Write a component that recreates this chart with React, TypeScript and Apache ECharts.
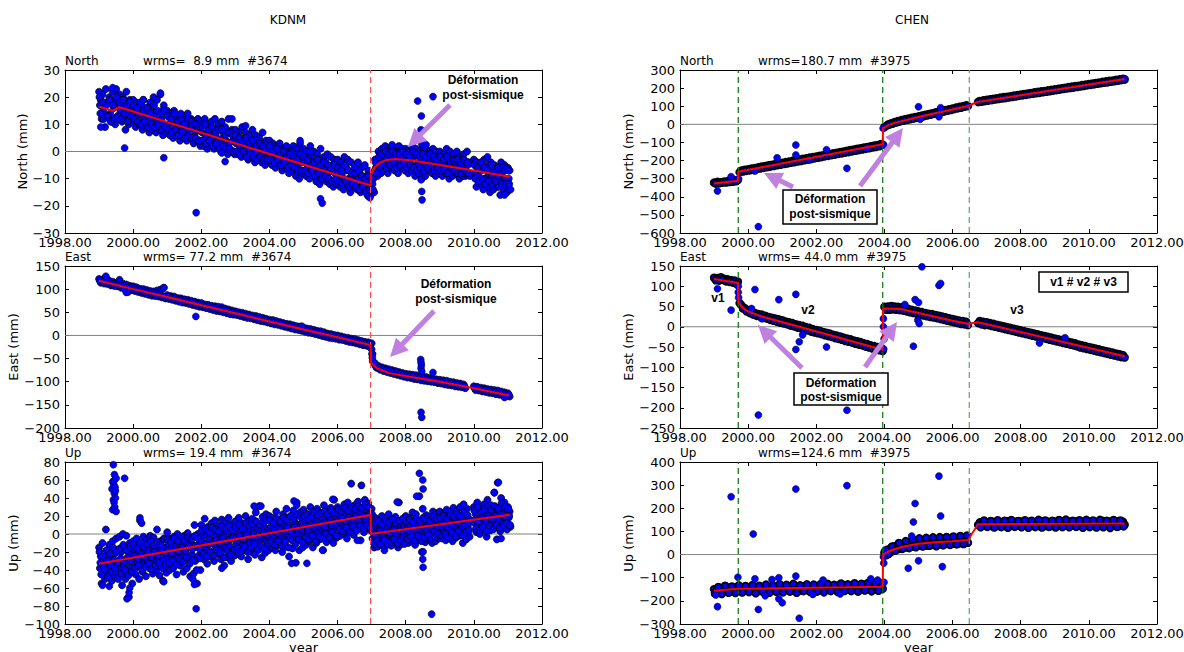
import React, { useEffect, useRef } from "react";
import * as echarts from "echarts";

// ---------------- axes ----------------
const X_MIN = 1998;
const X_MAX = 2012;
const X_STEP = 2;
const COLUMN_TITLES = ["KDNM", "CHEN"];
const COMPONENTS = ["North", "East", "Up"];
const Y_NAMES = ["North (mm)", "East (mm)", "Up (mm)"];
const WRMS = [
  ["wrms=  8.9 mm  #3674", "wrms= 77.2 mm  #3674", "wrms= 19.4 mm  #3674"],
  ["wrms=180.7 mm  #3975", "wrms= 44.0 mm  #3975", "wrms=124.6 mm  #3975"],
];
const Y_RANGES = [
  [[-30, 30, 10], [-200, 150, 50], [-100, 80, 20]],
  [[-600, 300, 100], [-250, 150, 50], [-300, 400, 100]],
];

// daily solutions sampled every 0.1 yr from 1999.0 (several read-off layers per panel)
const T0 = 1999.0;
const DT = 0.1;
const LAYER_SHIFT = [0, 0.05, 0.025, 0.075, 0.0125, 0.0375, 0.0625, 0.0875];

// ---------------- KDNM North ----------------
const KN_A = [22,21,23,20,22,23,21,20,22,19, 19,18,17,19,16,18,20,19,21,17, 15,14,15,13,12,13,14,12,11,12, 11,12,10,11,12,10,11,9,12,8, 8,7,9,7,6,8,6,5,7,4, 4,3,2,3,1,2,0,2,1,3, 1,0,2,0,-1,1,-2,-1,-2,-3, -3,-4,-2,-3,-4,-5,-4,-6,-5,-7, -8,-3,0,1,2,1,2,0,2,1, 1,0,2,1,0,2,1,0,1,0, 0,-1,1,0,-1,0,-2,-1,0,null, -3,-4,-5,-3,-2,-4,-5,-6,-4,-5, -6];
const KN_B = [17,15,18,14,16,17,15,17,14,16, 15,13,14,12,13,12,13,11,12,10, 10,11,9,10,8,9,8,9,7,8, 7,6,7,5,6,4,5,4,3,4, 3,2,3,1,2,1,0,1,-1,0, -1,-2,-1,-3,-2,-3,-4,-3,-5,-4, -4,-5,-4,-6,-5,-7,-6,-8,-7,-8, -8,-9,-7,-10,-9,-11,-10,-12,-11,-12, -12,-6,-4,-3,-3,-4,-2,-3,-4,-2, -3,-4,-2,-5,-3,-4,-5,-3,-4,-5, -4,-5,-6,-4,-5,-6,-5,-6,-5,null, -8,-9,-7,-10,-8,-9,-10,-9,-11,-10, -10];
const KN_C = [12,9,13,11,10,12,11,8,10,11, 9,10,8,9,7,8,7,8,6,7, 6,5,6,4,5,4,5,3,4,2, 2,1,3,1,2,0,1,-1,0,-1, -1,-2,-1,-3,-2,-4,-3,-4,-5,-4, -5,-6,-5,-7,-6,-8,-7,-9,-10,-8, -9,-10,-8,-11,-12,-10,-11,-12,-13,-12, -13,-14,-12,-15,-13,-14,-15,-14,-16,-16, -15,-9,-8,-7,-8,-6,-7,-8,-6,-7, -8,-7,-9,-8,-10,-9,-7,-8,-9,-8, -9,-8,-10,-9,-8,-10,-9,-8,-9,null, -13,-12,-14,-13,-15,-14,-13,-16,-14,-15, -14];
const KN_D = [19,13,18,12,18,13,19,13,18,12, 17,11,17,10,16,10,15,9,15,8, 14,7,13,6,12,6,11,5,10,4, 10,3,9,2,8,2,7,1,7,0, 6,0,5,-1,4,-2,4,-3,3,-3, 2,-4,1,-5,0,-6,0,-7,-1,-7, -2,-8,-3,-9,-3,-10,-4,-10,-5,-11, -6,-12,-6,-12,-7,-13,-8,-13,-9,-14, -10,-7,-1,-6,0,-6,0,-5,0,-6, 0,-6,-1,-6,-1,-7,-1,-7,-2,-7, -2,-8,-3,-8,-3,-9,-3,-9,-4,null, -4,-10,-5,-10,-5,-11,-6,-12,-6,-12, -7];
const KN_E = [20,18,17,19,17,20,18,19,17,18, 17,16,18,15,16,14,17,15,14,15, 13,12,14,11,12,10,12,11,10,9, 9,10,8,9,7,8,8,6,7,6, 6,5,4,5,3,4,2,3,2,1, 2,0,1,-1,0,-2,-1,-2,-3,-1, -2,-3,-1,-4,-3,-5,-4,-5,-6,-5, -6,-7,-5,-7,-8,-8,-7,-9,-10,-9, -10,-4,-2,-1,0,-1,0,-1,-1,0, -1,-2,0,-1,-2,-1,-2,-1,-2,-3, -2,-3,-2,-4,-3,-3,-4,-3,-4,null, -5,-6,-4,-6,-7,-5,-7,-6,-8,-7, -7];
const KN_F = [14,12,13,11,12,13,12,14,11,13, 12,11,10,11,9,10,9,10,8,9, 8,7,8,6,7,5,6,5,5,4, 4,3,4,2,3,1,2,1,1,0, 0,-1,0,-2,-1,-2,-3,-2,-3,-3, -3,-4,-3,-5,-4,-6,-5,-6,-7,-7, -7,-8,-7,-9,-8,-10,-9,-10,-11,-10, -11,-12,-11,-13,-12,-13,-14,-13,-15,-14, -14,-8,-6,-5,-6,-5,-4,-6,-5,-4, -6,-5,-6,-7,-6,-7,-6,-5,-7,-6, -7,-7,-8,-6,-7,-8,-8,-7,-8,null, -10,-11,-10,-12,-11,-12,-11,-13,-12,-12, -12];
const KN_OUT = [[1999.05,9],[1999.4,23.5],[1999.75,1.3],[2000.3,19],[2000.8,21.5],[2000.9,-2.3],[2001.4,14],[2001.85,-22.5],[2002.6,-0.5],[2002.7,-3.7],[2002.9,12],[2003.3,9.5],[2004.9,4],[2005.2,0],[2005.5,-17.4],[2005.55,-19],[2006.9,-16.5],[2006.95,-17],[2007.6,2.5],[2008.35,18.6],[2008.8,20.2],[2008.46,13.1],[2008.45,8],[2008.47,2.8],[2008.45,-10.4],[2008.47,-14.7],[2008.48,-17.8],[2008.6,2.5],[2010.9,-16]];
const KN_FIT = [[1999.0,16.5],[1999.4,15.0],[1999.6,16.3],[2006.97,-12.5],[2006.98,-8.6],[2007.1,-5.6],[2007.25,-4.1],[2007.44,-3.1],[2007.69,-2.8],[2008.2,-3.3],[2009.9,-6.8],[2011.06,-9.3]];

// ---------------- KDNM East ----------------
const KE_A = [122,121,125,118,116,113,120,112,110,107, 106,104,101,100,98,96,95,97,99,103, 87,85,84,81,80,78,77,75,73,71, 70,67,66,64,63,62,61,58,56,54, 52,50,49,47,45,43,42,40,38,36, 34,33,31,29,27,25,24,22,20,19, 17,15,14,12,10,9,7,4,3,1, 0,-2,-4,-5,-7,-8,-10,-12,-14,-15, -17,-63,-66,-69,-71,-73,-75,-77,-79,-81, -83,-84,-85,-86,-88,-89,-90,-92,-93,-95, -96,-97,-98,-100,-101,-103,-104,-106,null,null, -110,-111,-113,-114,-116,-117,-118,-119,-121,-123, -125];
const KE_B = [114,112,111,108,107,106,103,100,94,98, 96,94,92,90,88,86,85,84,82,80, 79,77,75,73,71,70,68,66,64,62, 61,59,57,55,53,52,50,48,46,45, 44,42,40,38,37,35,33,31,30,28, 26,24,23,21,19,17,15,13,12,10, 8,6,5,3,1,-1,-3,-5,-6,-7, -9,-10,-12,-14,-15,-17,-19,-21,-22,-24, -58,-70,-74,-77,-79,-81,-83,-85,-87,-89, -91,-92,-94,-95,-97,-98,-99,-100,-101,-103, -104,-106,-107,-108,-110,-111,-112,-114,null,null, -118,-119,-121,-122,-124,-125,-127,-128,-129,-131, -132];
const KE_C = [118,116,115,113,111,109,108,106,103,102, 100,98,97,95,93,91,90,88,86,84, 83,81,79,77,76,74,72,70,69,67, 65,63,62,60,58,56,55,53,51,50, 48,46,44,43,41,39,37,36,34,32, 30,28,27,25,23,21,20,18,16,14, 13,11,9,7,6,4,2,0,-1,-3, -4,-6,-8,-10,-11,-13,-15,-17,-18,-20, -40,-67,-70,-73,-75,-77,-79,-81,-83,-85, -87,-88,-89,-91,-92,-93,-95,-96,-97,-99, -100,-101,-103,-104,-106,-107,-108,-110,null,null, -114,-115,-117,-118,-120,-121,-122,-124,-125,-127, -128];
const KE_OUT = [[1999.2,128],[1999.8,93],[2000.85,100],[2000.9,103],[2001.84,41],[2004.95,20],[2005.5,5],[2006.95,-25],[2007.0,-30],[2007.01,-40],[2007.02,-48],[2007.03,-55],[2007.1,-60],[2008.44,-52],[2008.45,-58],[2008.46,-64],[2008.45,-71],[2008.47,-78],[2008.45,-166],[2008.47,-177],[2008.8,-80],[2010.9,-134]];
const KE_FIT = [[1999.0,118],[2000,100],[2001,83],[2002,65],[2003,48],[2004,30],[2005,13],[2006,-4],[2006.97,-21],[2006.98,-59],[2007.15,-71],[2007.54,-82],[2008.03,-88],[2009,-100],[2010,-114],[2011.04,-130]];

// ---------------- KDNM Up ----------------
const KU_A = [-15,-10,5,-12,-8,-5,-3,0,-2,-10, -8,-5,15,-3,-6,-2,-4,5,-8,-5, 2,-5,-3,0,-6,-2,1,-4,10,0, 10,17,8,12,15,9,16,13,18,11, 14,18,12,20,15,17,24,31,19,22, 20,18,25,16,22,28,19,26,35,24, 27,22,30,25,28,24,32,26,29,38, 30,28,33,35,56,32,36,54,38,34, 28,18,15,20,14,22,17,19,35,16, 20,18,24,22,42,28,21,19,25,23, 25,22,27,24,29,26,30,33,28,null, 30,35,28,33,38,32,46,57,40,35, 30];
const KU_B = [-25,-28,-20,-24,-22,-18,-20,-15,-19,-22, -18,-20,-14,-17,-15,-20,-16,-13,-18,-15, -12,-15,-10,-14,-11,-16,-9,-12,-14,-10, -2,0,-5,2,-3,0,-1,3,-4,1, 3,5,0,6,2,4,7,3,8,5, 8,10,6,12,9,11,7,13,10,12, 14,16,12,18,15,17,13,19,16,18, 22,20,24,21,25,23,26,24,27,25, 10,8,5,9,6,10,7,8,11,9, 10,8,12,9,11,13,10,12,9,14, 15,13,17,14,16,18,15,19,17,null, 22,20,25,23,27,24,28,26,29,27, 25];
const KU_C = [-38,-35,-40,-33,-36,-34,-38,-35,-30,-37, -30,-32,-28,-33,-30,-27,-31,-26,-30,-28, -25,-28,-22,-26,-24,-20,-27,-23,-30,-24, -15,-18,-12,-20,-14,-17,-11,-16,-13,-19, -10,-8,-12,-6,-11,-5,-9,-7,-4,-8, -5,-2,-8,-3,-6,0,-4,-1,-5,-2, 2,0,4,-1,3,6,1,5,2,7, 10,12,8,13,11,14,9,15,12,16, -5,-3,-7,-2,-5,-1,-6,-3,0,-4, 0,-3,2,-2,-5,1,-1,3,0,2, 5,3,7,4,6,8,2,5,9,null, 12,10,14,8,15,11,13,16,12,14, 18];
const KU_D = [-55,-50,-45,-52,-48,-44,-57,-50,-70,-55, -45,-50,-42,-47,-38,-44,-40,-46,-52,-43, -40,-38,-45,-35,-42,-38,-47,-44,-55,-40, -28,-33,-25,-30,-22,-28,-35,-26,-30,-24, -22,-25,-18,-28,-20,-23,-17,-26,-21,-18, -15,-18,-12,-20,-14,-25,-16,-32,-18,-15, -12,-8,-15,-10,-6,-18,-9,-5,-10,-4, -2,0,-5,3,-1,5,-7,2,6,4, -15,-14,-12,-18,-10,-13,-9,-15,-11,-8, -10,-8,-12,-7,-20,-9,-6,-10,-8,-5, -5,-7,-3,-8,-4,-2,-10,-6,-3,null, 2,0,5,-3,4,6,-6,3,7,5, 8];
const KU_E = [-20,-25,-18,-22,-15,-20,-16,-12,-18,-14, -12,-16,-10,-14,-11,-8,-13,-9,-12,-6, -6,-9,-5,-8,-3,-7,-4,-6,-2,-5, 4,6,2,7,5,3,8,6,9,4, 8,10,6,12,9,11,14,10,13,15, 15,13,17,14,18,16,20,17,21,19, 20,22,19,24,21,23,25,22,26,24, 27,25,29,26,30,28,31,29,33,30, 22,12,14,11,15,13,16,12,14,17, 14,16,13,17,15,18,16,14,19,17, 18,20,17,21,19,22,20,24,21,null, 26,30,24,28,32,27,31,29,34,30, 28];
const KU_F = [-32,-36,-30,-34,-29,-33,-27,-31,-26,-30, -24,-27,-22,-25,-21,-26,-20,-23,-19,-22, -18,-21,-17,-19,-15,-18,-14,-17,-13,-16, -8,-11,-6,-10,-7,-9,-5,-8,-6,-4, -4,-2,-6,-1,-3,0,-4,-2,1,-1, 2,4,1,5,3,6,2,7,4,5, 8,6,10,7,9,11,8,12,10,13, 15,17,14,18,16,19,15,20,17,21, 2,0,3,-1,2,1,4,0,3,2, 4,2,6,3,5,7,4,6,3,8, 8,10,6,11,9,12,7,10,13,null, 16,14,18,15,19,17,20,16,21,18, 20];
const KU_G = [-45,-40,-48,-42,-38,-50,-44,-40,-46,-42, -38,-35,-40,-36,-33,-39,-35,-32,-38,-34, -32,-30,-34,-28,-31,-26,-33,-29,-40,-27, -22,-25,-20,-24,-18,-21,-26,-19,-23,-17, -16,-19,-14,-20,-15,-12,-18,-13,-16,-11, -10,-12,-8,-13,-9,-15,-7,-11,-6,-9, -4,-6,-2,-8,-3,-5,0,-4,2,-2, 5,3,7,2,8,4,9,6,10,7, -10,-8,-11,-7,-12,-9,-6,-10,-8,-11, -6,-3,-7,-2,-8,-4,-1,-5,-3,0, -2,0,-4,1,-3,3,-1,2,4,null, 6,4,8,3,9,5,10,7,11,12, 10];
const KU_OUT = [[1999.1,-57],[1999.3,-58],[1999.38,50],[1999.4,58],[1999.4,27],[1999.42,77],[1999.42,38],[1999.43,55],[1999.44,35],[1999.45,66],[1999.45,45],[1999.45,60],[1999.46,30],[1999.47,52],[1999.48,40],[1999.48,48],[1999.5,25],[1999.5,62],[1999.75,62],[1999.82,-72],[1999.86,-70],[1999.88,-65],[1999.9,-60],[2000.2,18],[2000.25,12],[2000.9,-53],[2001.75,-50],[2001.8,-56],[2001.85,-83],[2002.6,-38],[2003.55,31],[2003.75,31],[2004.65,-32.6],[2004.72,36.7],[2004.8,32],[2005.1,-32.6],[2005.56,-18],[2005.86,38.6],[2006.58,-7],[2007.75,35.6],[2008.32,42],[2008.4,67.4],[2008.5,60],[2008.51,50],[2008.51,-19.7],[2008.5,-28],[2008.51,-37],[2008.76,-89],[2010.6,46],[2010.72,57.4],[2010.8,-5]];
const KU_FIT = [[1999.0,-33],[2006.97,21],[2006.98,0],[2011.05,21.5]];

// ---------------- CHEN North ----------------
const CN_A = [-322,-318,-320,-316,-314,-312,-309,-308,-256,-251, -248,-244,-241,-237,-233,-230,-226,-223,-219,-215, -213,-209,-206,-202,-198,-195,-191,-188,-184,-181, -178,-174,-171,-167,-164,-160,-157,-153,-150,-146, -142,-139,-135,-132,-128,-125,-121,-118,-114,-109, -16,-2,6,13,18,23,28,32,36,40, 44,48,53,57,61,66,70,74,79,83, 87,92,96,100,105,null,null,null,129,132, 135,138,141,144,147,150,152,155,158,161, 164,167,170,173,176,179,182,184,187,190, 193,196,199,202,205,208,211,213,216,219, 222,225,228,231,234,237,240,242,245,248, 251];
const CN_B = [-327,-325,-322,-321,-318,-317,-314,-264,-260,-257, -254,-251,-247,-244,-240,-237,-233,-230,-226,-223, -219,-216,-212,-209,-205,-202,-198,-195,-191,-188, -184,-181,-177,-174,-170,-167,-163,-160,-156,-153, -149,-146,-142,-139,-135,-132,-128,-125,-121,-112, -10,-1,4,10,15,20,24,28,32,36, 40,45,49,53,58,62,66,71,75,79, 84,88,92,97,101,null,null,123,125,128, 131,134,137,140,143,145,148,151,154,157, 160,163,166,169,172,174,177,180,183,186, 189,192,195,198,201,203,206,209,212,215, 218,221,224,227,230,232,235,238,241,244, 247];
const CN_OUT = [[1999.1,-368],[1999.5,-289],[1999.72,-300],[2000.2,-258],[2000.3,-565],[2000.85,-185],[2001.4,-114],[2001.4,-169],[2001.8,-197],[2002.3,-140],[2002.9,-243],[2003.5,-130],[2003.98,-114],[2003.96,-22],[2005.0,97],[2005.05,28],[2005.6,42],[2005.65,92],[2011.05,252]];
const CN_FIT = [[1999.0,-327],[1999.7,-312],[1999.71,-262],[2003.95,-110],[2003.96,-22],[2004.1,-6],[2004.3,8],[2004.6,22],[2005.0,40],[2006.49,103],[2006.62,115],[2006.75,124],[2011.05,250]];

// ---------------- CHEN East ----------------
const CE_A = [121,120,122,118,117,115,114,111,53,46, 41,38,34,31,30,27,24,22,20,18, 16,13,11,9,6,4,2,-1,-3,-6, -8,-10,-13,-15,-17,-20,-22,-24,-27,-29, -31,-34,-36,-38,-41,-43,-46,-48,-50,-52, 49,50,51,50,49,48,46,44,42,40, 38,36,34,32,31,29,27,25,23,21, 19,17,15,14,12,null,null,null,14,12, 11,9,7,5,3,1,-1,-3,-5,-7, -9,-11,-13,-15,-17,-19,-21,-23,-25,-27, -29,-31,-33,-35,-37,-39,-41,-44,-46,-48, -50,-52,-54,-56,-58,-60,-62,-64,-66,-68, -70];
const CE_B = [115,114,116,112,111,109,106,58,45,38, 34,30,27,25,22,20,17,15,12,10, 8,6,3,1,-2,-4,-7,-9,-12,-14, -16,-18,-21,-23,-25,-28,-30,-32,-35,-37, -39,-42,-44,-46,-49,-51,-54,-56,-58,-60, 42,42,43,42,41,40,38,36,34,32, 30,28,26,24,23,21,19,17,15,13, 11,9,7,6,4,null,null,9,6,4, 4,2,0,-2,-4,-6,-8,-10,-12,-14, -16,-18,-20,-22,-24,-26,-28,-30,-32,-34, -36,-38,-40,-42,-44,-46,-48,-51,-53,-55, -57,-59,-61,-63,-65,-67,-69,-71,-73,-75, -76];
const CE_OUT = [[1999.1,94],[1999.5,41],[1999.71,100],[1999.71,85],[1999.72,72],[2000.1,45],[2000.2,92],[2000.3,-218],[2000.4,20],[2000.9,67],[2001.4,80],[2001.4,-56],[2001.5,-37],[2001.6,-20],[2002.3,-50],[2002.9,-206],[2003.97,0],[2003.97,20],[2003.99,-30],[2003.98,-55],[2004.6,55],[2004.85,-48],[2004.9,67],[2004.98,16],[2005.0,60],[2005.02,8],[2005.1,148],[2005.6,102],[2005.65,107],[2008.55,-40],[2009.3,-27]];
const CE_FIT = [[1999.0,118],[1999.7,108],[1999.71,62],[1999.8,50],[1999.9,43],[2000.0,38],[2000.15,33],[2000.3,28],[2000.5,23],[2001.5,0],[2003.95,-57],[2003.96,45],[2004.46,44],[2005.0,34],[2006.0,15],[2006.49,7],[2006.62,10],[2006.75,11],[2011.05,-73]];

// ---------------- CHEN Up ----------------
const CU_A = [-150,-147,-149,-144,-146,-143,-145,-142,-144,-141, -143,-140,-142,-139,-141,-138,-142,-139,-141,-137, -140,-138,-141,-136,-139,-137,-140,-135,-138,-136, -139,-135,-137,-134,-138,-133,-136,-135,-132,-136, -134,-131,-135,-132,-130,-134,-131,-129,-133,-130, 8,22,30,36,42,45,48,52,55,56, 58,60,59,62,63,64,66,65,68,67, 69,70,71,72,73,null,null,null,139,141, 137,142,140,143,138,141,144,139,142,140, 143,139,141,144,138,142,140,145,141,139, 142,140,144,141,143,139,142,145,140,143, 141,144,139,142,146,140,143,141,144,140, 142];
const CU_B = [-162,-160,-163,-158,-161,-157,-159,-156,-158,-155, -156,-158,-154,-157,-155,-153,-157,-154,-152,-156, -155,-152,-156,-153,-151,-155,-152,-154,-150,-153, -152,-154,-150,-153,-149,-152,-151,-148,-152,-149, -150,-147,-151,-148,-146,-150,-147,-149,-145,-148, -3,8,15,21,25,28,31,33,35,37, 38,40,39,42,41,43,44,45,46,45, 47,48,49,50,51,null,null,128,127,124, 128,123,126,124,128,122,125,127,123,126, 124,127,122,125,128,123,126,124,121,127, 125,128,123,126,124,129,122,125,127,124, 126,123,128,124,122,127,124,126,121,125, 129];
const CU_C = [-168,-140,-170,-135,-165,-138,-166,-133,-164,-136, -162,-132,-167,-135,-160,-130,-165,-134,-161,-128, -163,-131,-160,-127,-165,-133,-158,-129,-162,-130, -160,-128,-163,-126,-158,-131,-161,-125,-157,-129, -158,-124,-160,-127,-155,-122,-159,-126,-156,-125, 12,2,35,18,50,25,58,28,65,32, 70,35,72,38,74,36,75,40,76,42, 78,44,80,46,82,null,null,null,118,147, 120,145,117,148,119,146,116,149,120,145, 118,148,116,146,119,150,117,147,120,146, 117,149,119,151,118,146,120,148,116,150, 119,147,117,150,118,146,115,149,120,147, 122];
const CU_OUT = [[1999.05,-175],[1999.1,-225],[1999.5,250],[1999.7,-98],[2000.15,89],[2000.2,-105],[2000.3,-237],[2000.5,-178],[2000.7,-108],[2000.9,-100],[2000.9,-191],[2001.0,-208],[2001.4,283],[2001.4,-93],[2001.5,-275],[2001.9,-172],[2002.2,-110],[2002.7,-170],[2002.9,298],[2003.6,-105],[2003.8,-110],[2003.97,-10],[2003.98,-37],[2003.99,-120],[2004.02,20],[2004.7,-59],[2004.8,80],[2004.85,141],[2004.9,221],[2005.0,-27],[2005.6,339],[2005.65,167],[2005.7,-52]];
const CU_FIT = [[1999.0,-156],[1999.7,-148],[2003.95,-139],[2003.96,0],[2004.1,12],[2004.3,24],[2004.6,36],[2005.0,47],[2005.5,53],[2006.0,58],[2006.45,63],[2006.75,131],[2011.05,134]];

// ---------------- events (earthquakes / offsets) ----------------
const KDNM_EVENTS = [2006.97];
const CHEN_EVENTS = [1999.71, 2003.95, 2006.49];

const PANEL_DATA = [
  [
    { layers: [KN_A, KN_D, KN_B, KN_C, KN_E, KN_F], out: KN_OUT, fit: KN_FIT },
    { layers: [KE_A, KE_B, KE_C], out: KE_OUT, fit: KE_FIT },
    { layers: [KU_A, KU_B, KU_C, KU_D, KU_E, KU_F, KU_G], out: KU_OUT, fit: KU_FIT },
  ],
  [
    { layers: [CN_A, CN_B], out: CN_OUT, fit: CN_FIT },
    { layers: [CE_A, CE_B], out: CE_OUT, fit: CE_FIT },
    { layers: [CU_A, CU_B, CU_C], out: CU_OUT, fit: CU_FIT },
  ],
];

// ---------------- layout ----------------
const GRID_LEFT = [65, 680];
const GRID_TOP = [70, 266, 462];
const GRID_H = [163, 162, 162];
const GRID_W = 477;
const FONT = "DejaVu Sans";
const BOLD_FONT = "Liberation Sans";

function fmtY(v: number) {
  return v < 0 ? "\u2212" + Math.abs(v) : String(v);
}

function layerPoints(vals: (number | null)[], shift: number) {
  const out: number[][] = [];
  vals.forEach((v, i) => {
    if (v !== null) out.push([Math.round((T0 + i * DT + shift) * 1000) / 1000, v]);
  });
  return out;
}

function arrow(x1: number, y1: number, x2: number, y2: number, sw: number, hw: number, hl: number) {
  const dx = x2 - x1, dy = y2 - y1;
  const L = Math.sqrt(dx * dx + dy * dy);
  const ux = dx / L, uy = dy / L;
  const nx = -uy, ny = ux;
  const bx = x2 - ux * hl, by = y2 - uy * hl;
  return [
    [x1 + nx * sw / 2, y1 + ny * sw / 2],
    [bx + nx * sw / 2, by + ny * sw / 2],
    [bx + nx * hw / 2, by + ny * hw / 2],
    [x2, y2],
    [bx - nx * hw / 2, by - ny * hw / 2],
    [bx - nx * sw / 2, by - ny * sw / 2],
    [x1 - nx * sw / 2, y1 - ny * sw / 2],
  ];
}

const ARROW_COLOR = "#c080e0";

function buildOption() {
  const grids: any[] = [];
  const xAxes: any[] = [];
  const yAxes: any[] = [];
  const series: any[] = [];
  let g = 0;
  for (let col = 0; col < 2; col++) {
    for (let row = 0; row < 3; row++) {
      const [ymin, ymax, ystep] = Y_RANGES[col][row];
      grids.push({
        left: GRID_LEFT[col], top: GRID_TOP[row], width: GRID_W, height: GRID_H[row],
        containLabel: false, outerBoundsMode: "none", show: false,
      });
      const axLine = { show: true, lineStyle: { color: "#000", width: 1 } };
      const tick = { show: true, inside: true, length: 4, lineStyle: { color: "#000", width: 1 } };
      xAxes.push({
        type: "value", gridIndex: g, min: X_MIN, max: X_MAX, interval: X_STEP, position: "bottom",
        axisLine: { ...axLine, onZero: false }, axisTick: tick, splitLine: { show: false },
        axisLabel: { color: "#000", fontFamily: FONT, fontSize: 13, margin: 3, showMinLabel: true, showMaxLabel: true,
          formatter: (v: number) => v.toFixed(2) },
        name: row === 2 ? "year" : "", nameLocation: "middle", nameGap: 14,
        nameTextStyle: { color: "#000", fontFamily: FONT, fontSize: 13 },
      });
      xAxes.push({
        type: "value", gridIndex: g, min: X_MIN, max: X_MAX, interval: X_STEP, position: "top",
        axisLine: { ...axLine, onZero: false }, axisTick: tick, splitLine: { show: false }, axisLabel: { show: false },
      });
      yAxes.push({
        type: "value", gridIndex: g, min: ymin, max: ymax, interval: ystep, position: "left",
        axisLine: { ...axLine, onZero: false }, axisTick: tick, splitLine: { show: false },
        axisLabel: { color: "#000", fontFamily: FONT, fontSize: 13, margin: 5, showMinLabel: true, showMaxLabel: true,
          formatter: fmtY },
        name: Y_NAMES[row], nameLocation: "middle", nameRotate: 90, nameGap: col === 0 ? 35 : 42,
        nameTextStyle: { color: "#000", fontFamily: FONT, fontSize: 13 },
      });
      yAxes.push({
        type: "value", gridIndex: g, min: ymin, max: ymax, interval: ystep, position: "right",
        axisLine: { ...axLine, onZero: false }, axisTick: tick, splitLine: { show: false }, axisLabel: { show: false },
      });
      const xi = 2 * g, yi = 2 * g;
      // zero line
      series.push({
        type: "line", xAxisIndex: xi, yAxisIndex: yi, data: [[X_MIN, 0], [X_MAX, 0]],
        symbol: "none", silent: true, z: 1, lineStyle: { color: "#808080", width: 1 },
      });
      // observations: dense daily solutions, then isolated outliers on top
      const pd = PANEL_DATA[col][row];
      const pts: number[][] = [];
      pd.layers.forEach((L: any, k: number) => pts.push(...layerPoints(L, LAYER_SHIFT[k])));
      series.push({
        type: "scatter", xAxisIndex: xi, yAxisIndex: yi, data: pts, symbol: "circle", symbolSize: 7,
        progressive: 0, silent: true, z: 2,
        itemStyle: { color: "#0000ff", borderColor: "#000000", borderWidth: col === 1 ? 1.6 : 0.7, opacity: 1 },
      });
      series.push({
        type: "scatter", xAxisIndex: xi, yAxisIndex: yi, data: pd.out, symbol: "circle", symbolSize: 7,
        progressive: 0, silent: true, z: 2,
        itemStyle: { color: "#0000ff", borderColor: "#000000", borderWidth: 0.5, opacity: 1 },
      });
      // event lines
      const events = col === 0 ? KDNM_EVENTS : CHEN_EVENTS;
      events.forEach((t, k) => {
        const color = col === 0 ? "#ff5050" : k === 2 ? "#5aa55a" : "#007800";
        series.push({
          type: "line", xAxisIndex: xi, yAxisIndex: yi, data: [[t, ymin], [t, ymax]], symbol: "none", silent: true, z: 3,
          lineStyle: { color, width: 1.2, type: [6, 4] },
        });
      });
      // model
      series.push({
        type: "line", xAxisIndex: xi, yAxisIndex: yi, data: pd.fit, symbol: "none", silent: true, z: 4,
        lineStyle: { color: "#ff0000", width: 2 },
      });
      g++;
    }
  }

  const graphic: any[] = [];
  const txt = (x: number, y: number, text: string, opts: any = {}) => ({
    type: "text", x, y, silent: true, z: 10,
    style: {
      text, fill: "#000", fontFamily: opts.family || FONT, fontSize: opts.size || 12, fontWeight: opts.weight || "normal",
      align: opts.align || "left", verticalAlign: "middle", textAlign: opts.align || "left", textVerticalAlign: "middle",
    },
  });
  graphic.push(txt(288, 20, COLUMN_TITLES[0], { align: "center" }));
  graphic.push(txt(912, 20, COLUMN_TITLES[1], { align: "center" }));
  const titleY = [61, 257, 452.5];
  for (let col = 0; col < 2; col++) {
    for (let row = 0; row < 3; row++) {
      graphic.push(txt(GRID_LEFT[col], titleY[row], COMPONENTS[row]));
      graphic.push(txt(GRID_LEFT[col] + 78, titleY[row], WRMS[col][row]));
    }
  }
  const bold = { family: BOLD_FONT, weight: "bold", align: "center", size: 12 };
  const arrowEl = (a: number[][]) => ({ type: "polygon", silent: true, z: 9, shape: { points: a }, style: { fill: ARROW_COLOR, stroke: "none" } });
  const box = (x: number, y: number, w: number, h: number) => ({
    type: "rect", silent: true, z: 9, shape: { x, y, width: w, height: h }, style: { fill: "#fff", stroke: "#000", lineWidth: 1.5 },
  });
  // KDNM North
  graphic.push(txt(483, 80, "Déformation", bold));
  graphic.push(txt(483, 95, "post-sismique", bold));
  graphic.push(arrowEl(arrow(450, 105, 408, 147, 5, 18, 18)));
  // KDNM East
  graphic.push(txt(456, 284, "Déformation", bold));
  graphic.push(txt(456, 299, "post-sismique", bold));
  graphic.push(arrowEl(arrow(434, 311, 390, 357, 5, 18, 18)));
  // CHEN North
  graphic.push(arrowEl(arrow(793, 187, 764, 173, 5, 18, 18)));
  graphic.push(arrowEl(arrow(860, 186, 903, 128, 5, 18, 18)));
  graphic.push(box(783, 190, 94, 34));
  graphic.push(txt(830, 199, "Déformation", bold));
  graphic.push(txt(830, 214, "post-sismique", bold));
  // CHEN East
  graphic.push(arrowEl(arrow(802, 368, 758, 325, 5, 18, 18)));
  graphic.push(arrowEl(arrow(865, 367, 897, 322, 5, 18, 18)));
  graphic.push(box(794, 373, 94, 32));
  graphic.push(txt(841, 383, "Déformation", bold));
  graphic.push(txt(841, 397, "post-sismique", bold));
  graphic.push(box(1039, 272, 89, 20));
  graphic.push(txt(1083.5, 282, "v1 # v2 # v3", bold));
  graphic.push(txt(718, 298, "v1", bold));
  graphic.push(txt(808, 310, "v2", bold));
  graphic.push(txt(1017, 310, "v3", bold));

  return {
    animation: false,
    backgroundColor: "#ffffff",
    grid: grids,
    xAxis: xAxes,
    yAxis: yAxes,
    series,
    graphic,
  };
}

export default function App() {
  const ref = useRef<HTMLDivElement>(null);
  useEffect(() => {
    if (!ref.current) return;
    const chart = echarts.init(ref.current, undefined, { renderer: "svg" });
    chart.setOption(buildOption() as any);
    return () => chart.dispose();
  }, []);
  return (
    <div
      ref={ref}
      style={{ position: "fixed", left: 0, top: 0, width: 1184, height: 652, background: "#fff" }}
    />
  );
}
